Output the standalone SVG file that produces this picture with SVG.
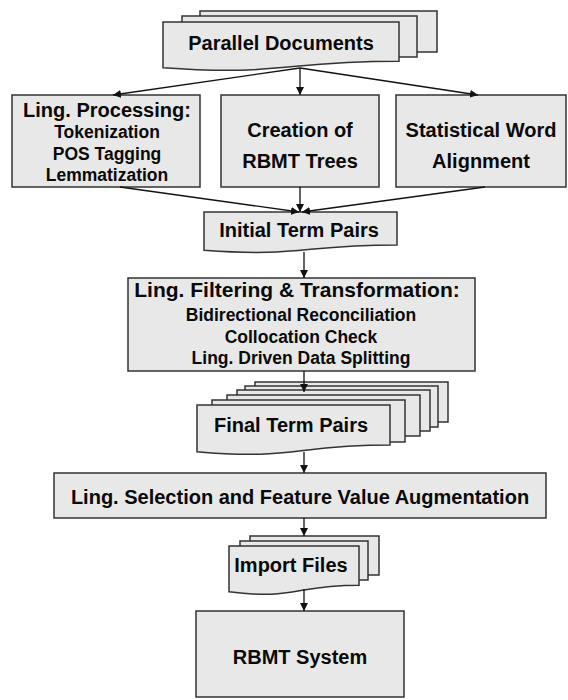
<svg xmlns="http://www.w3.org/2000/svg" width="568" height="700" viewBox="0 0 568 700">
<defs>
<style>
.box{fill:#e8e8e8;stroke:#333;stroke-width:1.5}
.t{font-family:"Liberation Sans",Arial,sans-serif;font-weight:bold;fill:#0a0a0a;text-anchor:middle}
.h{font-size:20px}
.hl{font-size:21px}
.s{font-size:17.5px}
.c{stroke:#111;stroke-width:1.3;fill:none;marker-end:url(#ah)}
</style>
<marker id="ah" viewBox="0 0 10 10" refX="10" refY="5" markerWidth="8" markerHeight="8" markerUnits="userSpaceOnUse" orient="auto">
<path d="M0,0 L10,5 L0,10 Z" fill="#111"/>
</marker>
</defs>
<rect width="568" height="700" fill="#fff"/>

<g id="parallel-documents">
<rect class="box" x="200" y="11" width="237" height="41"/>
<rect class="box" x="182" y="16" width="235" height="41"/>
<path class="box" d="M163,22 H399 V61.3 C281,61.3 281,76.2 163,67.8 Z"/>
<text class="t h" x="281" y="50">Parallel Documents</text>
</g>

<g id="ling-processing">
<rect class="box" x="12" y="95" width="188" height="92"/>
<text class="t h" x="107" y="117">Ling. Processing:</text>
<text class="t s" x="107" y="138">Tokenization</text>
<text class="t s" x="107" y="160">POS Tagging</text>
<text class="t s" x="107" y="181">Lemmatization</text>
</g>

<g id="creation-rbmt-trees">
<rect class="box" x="221" y="95" width="158" height="92"/>
<text class="t h" x="300" y="137">Creation of</text>
<text class="t h" x="300" y="168">RBMT Trees</text>
</g>

<g id="statistical-word-alignment">
<rect class="box" x="396" y="95" width="170" height="92"/>
<text class="t h" x="481" y="137">Statistical Word</text>
<text class="t h" x="481" y="168">Alignment</text>
</g>

<g id="initial-term-pairs">
<path class="box" d="M204,212 H397 V245 C300.5,245 300.5,257.4 204,250.3 Z"/>
<text class="t h" x="299" y="237">Initial Term Pairs</text>
</g>

<g id="ling-filtering">
<rect class="box" x="128" y="278" width="347" height="93"/>
<text class="t hl" x="297" y="297">Ling. Filtering &amp; Transformation:</text>
<text class="t s" x="301" y="321">Bidirectional Reconciliation</text>
<text class="t s" x="301" y="343">Collocation Check</text>
<text class="t s" x="301" y="364">Ling. Driven Data Splitting</text>
</g>

<g id="final-term-pairs">
<rect class="box" x="255" y="382" width="193" height="40"/>
<rect class="box" x="245" y="386" width="193" height="41"/>
<rect class="box" x="237" y="390" width="193" height="41"/>
<rect class="box" x="227" y="395" width="193" height="41"/>
<rect class="box" x="212" y="400" width="193" height="42"/>
<path class="box" d="M197,405 H390 V445 C293.5,445 293.5,460.3 197,451.7 Z"/>
<text class="t h" x="291" y="432">Final Term Pairs</text>
</g>

<g id="ling-selection">
<rect class="box" x="54" y="473" width="492" height="45"/>
<text class="t h" x="300" y="504">Ling. Selection and Feature Value Augmentation</text>
</g>

<g id="import-files">
<rect class="box" x="250" y="536" width="129" height="39"/>
<rect class="box" x="240" y="541" width="128" height="39"/>
<path class="box" d="M229,546 H359 V585.3 C294,585.3 294,600.2 229,591.8 Z"/>
<text class="t h" x="291" y="572">Import Files</text>
</g>

<g id="rbmt-system">
<rect class="box" x="196" y="611" width="208" height="86"/>
<text class="t h" x="300" y="664">RBMT System</text>
</g>

<g id="connectors">
<line class="c" x1="300" y1="68" x2="113" y2="95"/>
<line class="c" x1="300" y1="68" x2="300" y2="95"/>
<line class="c" x1="300" y1="68" x2="478" y2="95"/>
<line class="c" x1="120" y1="187" x2="299" y2="212"/>
<line class="c" x1="300" y1="187" x2="300" y2="212"/>
<line class="c" x1="485" y1="187" x2="302" y2="212"/>
<line class="c" x1="304" y1="252" x2="304" y2="278"/>
<line class="c" x1="304" y1="371" x2="304" y2="392"/>
<line class="c" x1="304" y1="452" x2="304" y2="473"/>
<line class="c" x1="304" y1="518" x2="304" y2="536"/>
<line class="c" x1="304" y1="589" x2="304" y2="611"/>
</g>
</svg>
